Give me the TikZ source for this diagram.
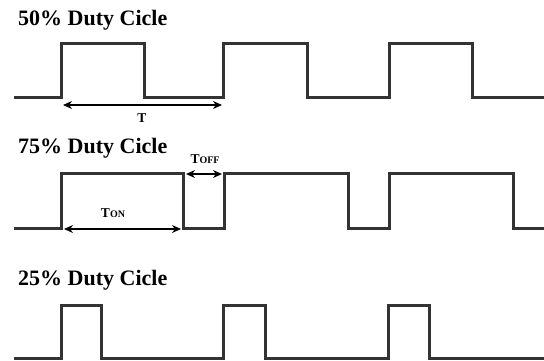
\documentclass[tikz,border=0pt]{standalone}
\usepackage{fontspec}
\setmainfont{Liberation Serif}
\usepackage{tikz}
\usetikzlibrary{arrows.meta}
\definecolor{sigcol}{RGB}{51,51,51}
\tikzset{
    sig/.style={draw=sigcol, line width=3pt, line join=miter},
    title/.style={anchor=west, inner sep=0pt, font=\bfseries\fontsize{22}{24}\selectfont},
    lbl/.style={inner sep=0pt, font=\bfseries\fontsize{13.5}{15}\selectfont}
}
\newcommand{\drawspan}{\draw[line width=1.3pt, {Stealth[length=9pt,width=8pt]}-{Stealth[length=9pt,width=8pt]}]}

\begin{document}
\begin{tikzpicture}[x=1pt, y=-1pt]
    \useasboundingbox (0,0) rectangle (544,360);

    % Titles
    \node[title] (t50) at (18,20) {50\% Duty Cicle};
    \node[title] (t75) at (18,148) {75\% Duty Cicle};
    \node[title] (t25) at (18,280) {25\% Duty Cicle};

    % Draw signals
    \draw[sig] (14,97) -| (61,43) -| (144,97) -| (223,43) -| (307,97) -| (389,43) -| (472,97) -- (544,97);
    \draw[sig] (14,228) -| (61,173) -| (183,228) -| (224,173) -| (348,228) -| (389,173) -| (513,228) -- (544,228);
    \draw[sig] (14,358) -| (61,305) -| (101,358) -| (223,305) -| (265,358) -| (388,305) -| (429,358) -- (544,358);

    % Draw spans
    \coordinate (p0) at (63,105);
    \coordinate (p1) at (222,105);
    \coordinate (on0) at (64,229);
    \coordinate (on1) at (181,229);
    \coordinate (off0) at (186,174);
    \coordinate (off1) at (222,174);

    \drawspan (p0) -- (p1);
    \drawspan (on0) -- (on1);
    \drawspan (off0) -- (off1);

    \node[lbl] (tp) at (142,118) {T};
    \node[lbl] (ton) at (113,213) {T{\fontsize{10}{11}\selectfont ON}};
    \node[lbl] (toff) at (205,159) {T{\fontsize{10}{11}\selectfont OFF}};
\end{tikzpicture}
\end{document}
